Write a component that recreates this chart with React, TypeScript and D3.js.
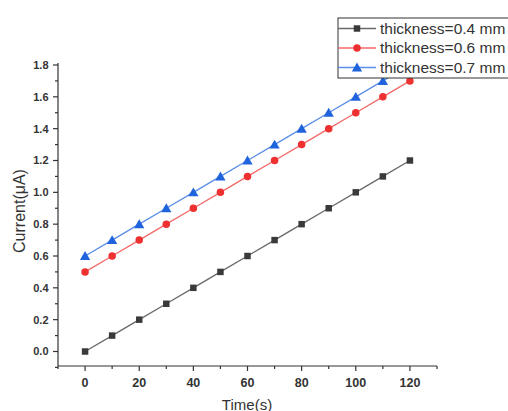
import React from "react";
import * as d3 from "d3";

const times = [0, 10, 20, 30, 40, 50, 60, 70, 80, 90, 100, 110, 120];
const current04 = [0, 0.1, 0.2, 0.3, 0.4, 0.5, 0.6, 0.7, 0.8, 0.9, 1.0, 1.1, 1.2];
const current06 = [0.5, 0.6, 0.7, 0.8, 0.9, 1.0, 1.1, 1.2, 1.3, 1.4, 1.5, 1.6, 1.7];
const current07 = [0.6, 0.7, 0.8, 0.9, 1.0, 1.1, 1.2, 1.3, 1.4, 1.5, 1.6, 1.7, 1.8];
const seriesNames = ["thickness=0.4 mm", "thickness=0.6 mm", "thickness=0.7 mm"];
const xTicks = [0, 20, 40, 60, 80, 100, 120];
const yTicks = [0, 0.2, 0.4, 0.6, 0.8, 1.0, 1.2, 1.4, 1.6, 1.8];

const W = 508;
const H = 411;
const x = d3.scaleLinear().domain([-10, 130]).range([58, 437]);
const y = d3.scaleLinear().domain([0, 1.8]).range([351.5, 65]);
const yBottom = 366;

const series = [
  { name: seriesNames[0], values: current04, line: "#6a6a6a", fill: "#3a3a3a", shape: "square" },
  { name: seriesNames[1], values: current06, line: "#f26a6a", fill: "#ee3030", shape: "circle" },
  { name: seriesNames[2], values: current07, line: "#5b8fe6", fill: "#1f63dd", shape: "triangle" },
];

const symbolFor = (shape: string) =>
  shape === "square"
    ? d3.symbol(d3.symbolSquare, 42)()
    : shape === "circle"
    ? d3.symbol(d3.symbolCircle, 44)()
    : d3.symbol(d3.symbolTriangle, 46)();

export default function App() {
  const line = d3
    .line<[number, number]>()
    .x((d) => x(d[0]))
    .y((d) => y(d[1]));
  const xMinor = d3.range(-10, 131, 10).filter((v) => v % 20 !== 0);
  const yMinor = d3.range(1, 18, 2).map((v) => v / 10);
  const font = "Arial, 'Liberation Sans', sans-serif";
  const legendX = 338;
  const legendY = 18;
  const rowH = 19.5;

  return (
    <svg
      width={W}
      height={H}
      style={{ position: "absolute", left: 0, top: 0, background: "#fff" }}
      fontFamily={font}
    >
      {/* series */}
      {series.map((s) => {
        const pts: [number, number][] = times.map((t, i) => [t, s.values[i]]);
        const sym = symbolFor(s.shape);
        return (
          <g key={s.name}>
            <path d={line(pts) || ""} fill="none" stroke={s.line} strokeWidth={1.3} />
            {pts.map((p, i) => (
              <path
                key={i}
                d={sym || ""}
                transform={`translate(${x(p[0])},${y(p[1]) + (s.shape === "triangle" ? 1 : 0)})`}
                fill={s.fill}
              />
            ))}
          </g>
        );
      })}

      {/* axes */}
      <g stroke="#333" strokeWidth={1.2}>
        <line x1={58} x2={58} y1={63} y2={yBottom} />
        <line x1={58} x2={437} y1={yBottom} y2={yBottom} />
        {yTicks.map((v) => (
          <line key={"yt" + v} x1={53} x2={58} y1={y(v)} y2={y(v)} />
        ))}
        {yMinor.map((v) => (
          <line key={"ym" + v} x1={55} x2={58} y1={y(v)} y2={y(v)} />
        ))}
        <line x1={55} x2={58} y1={y(-0.1)} y2={y(-0.1)} />
        {xTicks.map((v) => (
          <line key={"xt" + v} x1={x(v)} x2={x(v)} y1={yBottom} y2={yBottom + 5} />
        ))}
        {xMinor.map((v) => (
          <line key={"xm" + v} x1={x(v)} x2={x(v)} y1={yBottom} y2={yBottom + 3} />
        ))}
      </g>
      <g fill="#333" fontWeight={600}>
        {yTicks.map((v) => (
          <text key={"yl" + v} x={48.5} y={y(v)} dy="0.35em" textAnchor="end" fontSize={11}>
            {v.toFixed(1)}
          </text>
        ))}
        {xTicks.map((v) => (
          <text key={"xl" + v} x={x(v)} y={387} textAnchor="middle" fontSize={12.5}>
            {v}
          </text>
        ))}
      </g>
      <text x={247} y={409.5} textAnchor="middle" fontSize={15} fill="#333">
        Time(s)
      </text>
      <text
        transform="translate(25,211) rotate(-90)"
        textAnchor="middle"
        fontSize={16}
        fill="#333"
      >
        Current(μA)
      </text>

      {/* legend */}
      <g>
        <rect x={legendX} y={legendY} width={200} height={60} fill="#fff" stroke="#333" strokeWidth={1} />
        {series.map((s, i) => {
          const cy = legendY + 10.5 + i * rowH;
          return (
            <g key={"lg" + s.name}>
              <line x1={legendX} x2={legendX + 38} y1={cy} y2={cy} stroke={s.line} strokeWidth={1.3} />
              <path
                d={symbolFor(s.shape) || ""}
                transform={`translate(${legendX + 19},${cy + (s.shape === "triangle" ? 1 : 0)})`}
                fill={s.fill}
              />
              <text x={legendX + 42} y={cy} dy="0.35em" fontSize={15.5} fill="#333">
                {s.name}
              </text>
            </g>
          );
        })}
      </g>
    </svg>
  );
}
